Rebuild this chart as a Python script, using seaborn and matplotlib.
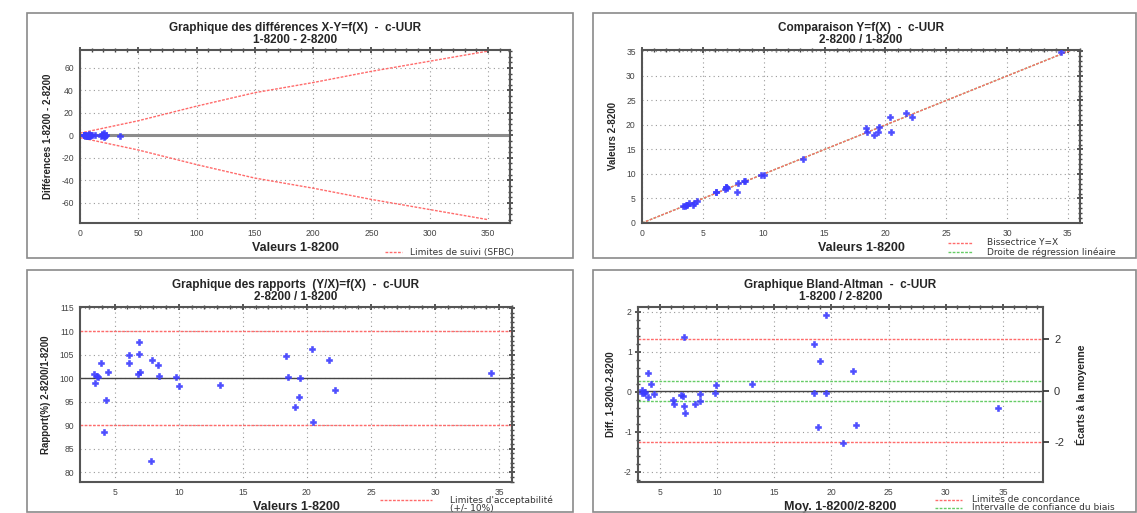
import numpy as np
import pandas as pd
import matplotlib
matplotlib.use("Agg")
import matplotlib.pyplot as plt
import seaborn as sns
from matplotlib.patches import Rectangle
from matplotlib.ticker import MultipleLocator

# Values: method 1-8200 (x) and ratio 2-8200/1-8200 in %
x_vals = [3.4, 3.5, 3.6, 3.7, 3.9, 4.2, 4.3, 4.5, 6.1, 6.1, 6.8, 6.9, 6.9, 7.0,
          7.8, 7.9, 8.4, 8.5, 9.8, 10.0, 13.2, 18.4, 18.5, 19.1, 19.4, 19.5,
          20.4, 20.5, 21.7, 22.2, 34.4]
ratio_vals = [101.0, 99.0, 100.5, 100.3, 103.3, 88.5, 95.3, 101.3, 105.0, 103.3,
              101.0, 105.2, 107.7, 101.3, 82.3, 103.8, 102.8, 100.5, 100.2, 98.4,
              98.6, 104.8, 100.2, 93.8, 96.0, 100.1, 106.2, 90.6, 103.8, 97.6, 101.2]

# SFBC follow-up limits (top left), read at a few x positions
lim_x = [0, 50, 100, 150, 200, 250, 300, 350]
lim_up = [2, 13, 26, 38, 47, 57, 66, 75]

# Bland-Altman reference lines
ba_bias = 0.03
ba_loa = [-1.24, 1.32]
ba_ci = [-0.22, 0.28]

df = pd.DataFrame({"x": x_vals, "ratio": ratio_vals})
df["y"] = df["x"] * df["ratio"] / 100
df["diff"] = df["x"] - df["y"]
df["mean"] = (df["x"] + df["y"]) / 2

sns.set_theme(style="white")
plt.rcParams["font.family"] = ["Liberation Sans", "DejaVu Sans"]
plt.rcParams["axes.unicode_minus"] = False

W, H = 1137, 513
fig = plt.figure(figsize=(W / 100, H / 100), dpi=100)

def rect(l, r, t, b):
    return [l / W, 1 - b / H, (r - l) / W, (b - t) / H]

# panel frames
for (l, r, t, b) in [(27, 573, 13, 258), (593, 1136, 13, 258),
                     (27, 573, 270, 512), (593, 1136, 270, 512)]:
    fig.patches.append(Rectangle((l / W, 1 - b / H), (r - l) / W, (b - t) / H,
                                 transform=fig.transFigure, fill=False,
                                 edgecolor="#8a8a8a", linewidth=1.2))

PT = "#3b3bff"
RED = "#ff6b6b"
GRN = "#66cc66"
LEG_FONT = dict(fontsize=6.5, family="DejaVu Sans", va="center", color="#333333")

def style(ax, xmaj, xmin, ymaj, ymin):
    ax.xaxis.set_major_locator(MultipleLocator(xmaj))
    ax.xaxis.set_minor_locator(MultipleLocator(xmin))
    ax.yaxis.set_major_locator(MultipleLocator(ymaj))
    ax.yaxis.set_minor_locator(MultipleLocator(ymin))
    ax.grid(True, which="major", linestyle=(0, (1, 3)), color="#9a9a9a", linewidth=0.8)
    ax.tick_params(which="both", direction="inout", top=True, right=True,
                   labelsize=6.2, colors="#444444", pad=2)
    ax.tick_params(which="major", length=5)
    ax.tick_params(which="minor", length=3)
    for s in ax.spines.values():
        s.set_color("#555555")
        s.set_linewidth(1.5)

def title(ax, l1, l2):
    ax.set_title(l1 + "\n" + l2, fontsize=8.5, fontweight="bold", pad=5, linespacing=1.0)

def xlab(ax, txt):
    ax.set_xlabel(txt, fontsize=9, fontweight="bold", labelpad=3)

def ylab(ax, txt):
    ax.set_ylabel(txt, fontsize=7, fontweight="bold", labelpad=6)

def legend_row(x0, x1, xt, yy, col, txt):
    fig.lines.append(plt.Line2D([x0 / W, x1 / W], [1 - yy / H] * 2, transform=fig.transFigure,
                                color=col, linestyle=(0, (2, 1)), linewidth=1))
    fig.text(xt / W, 1 - yy / H, txt, **LEG_FONT)

def scatter(ax, xcol, ycol):
    sns.scatterplot(data=df, x=xcol, y=ycol, ax=ax, color=PT, marker="P", s=24,
                    edgecolor=PT, linewidth=0.4, alpha=0.9, zorder=3)

# ---- top left: differences
ax1 = fig.add_axes(rect(80, 510, 50, 223))
ax1.axhline(0, color="#8c8c8c", linewidth=2.2, zorder=1)
sns.lineplot(x=lim_x, y=lim_up, ax=ax1, color=RED, linestyle=(0, (2, 1)), linewidth=1)
sns.lineplot(x=lim_x, y=[-v for v in lim_up], ax=ax1, color=RED, linestyle=(0, (2, 1)), linewidth=1)
scatter(ax1, "x", "diff")
ax1.set_xlim(0, 369)
ax1.set_ylim(-78, 76)
style(ax1, 50, 10, 20, 5)
title(ax1, "Graphique des différences X-Y=f(X)  -  c-UUR", "1-8200 - 2-8200")
xlab(ax1, "Valeurs 1-8200")
ylab(ax1, "Différences 1-8200 - 2-8200")
legend_row(385, 402, 410, 252, RED, "Limites de suivi (SFBC)")

# ---- top right: comparison
ax2 = fig.add_axes(rect(642, 1080, 50, 223))
sns.lineplot(x=[0, 36], y=[0, 36], ax=ax2, color=GRN, linestyle=(0, (2, 1)), linewidth=1)
sns.lineplot(x=[0, 36], y=[0, 36], ax=ax2, color=RED, linestyle=(0, (2, 1)), linewidth=1)
scatter(ax2, "x", "y")
ax2.set_xlim(0, 36)
ax2.set_ylim(0, 35.3)
style(ax2, 5, 1, 5, 1)
title(ax2, "Comparaison Y=f(X)  -  c-UUR", "2-8200 / 1-8200")
xlab(ax2, "Valeurs 1-8200")
ylab(ax2, "Valeurs 2-8200")
legend_row(948, 973, 987, 243, RED, "Bissectrice Y=X")
legend_row(948, 973, 987, 252, GRN, "Droite de régression linéaire")

# ---- bottom left: ratios
ax3 = fig.add_axes(rect(80, 512, 307, 482))
ax3.axhline(100, color="#444444", linewidth=1)
for v in [90, 110]:
    ax3.axhline(v, color=RED, linestyle=(0, (2, 1)), linewidth=1)
scatter(ax3, "x", "ratio")
ax3.set_xlim(2.3, 36)
ax3.set_ylim(77.9, 115.2)
style(ax3, 5, 1, 5, 1)
title(ax3, "Graphique des rapports  (Y/X)=f(X)  -  c-UUR", "2-8200 / 1-8200")
xlab(ax3, "Valeurs 1-8200")
ylab(ax3, "Rapport(%) 2-8200/1-8200")
legend_row(380, 432, 450, 500, RED, "Limites d'acceptabilité")
fig.text(450 / W, 1 - 508 / H, "(+/- 10%)", **LEG_FONT)

# ---- bottom right: Bland-Altman
ax4 = fig.add_axes(rect(638, 1043, 307, 482))
ax4.axhline(ba_bias, color="#444444", linewidth=1)
for v in ba_loa:
    ax4.axhline(v, color=RED, linestyle=(0, (2, 1)), linewidth=1)
for v in ba_ci:
    ax4.axhline(v, color=GRN, linestyle=(0, (2, 1)), linewidth=1)
scatter(ax4, "mean", "diff")
ax4.set_xlim(3.1, 38.5)
ax4.set_ylim(-2.25, 2.12)
style(ax4, 5, 1, 1, 0.2)
ax4.tick_params(which="both", right=False)
title(ax4, "Graphique Bland-Altman  -  c-UUR", "1-8200 / 2-8200")
xlab(ax4, "Moy. 1-8200/2-8200")
ylab(ax4, "Diff. 1-8200-2-8200")
ax4r = ax4.twinx()
ax4r.set_ylim(ax4.get_ylim())
ax4r.set_yticks([ba_loa[0], ba_bias, ba_loa[1]], ["-2", "0", "2"])
ax4r.tick_params(direction="out", length=4, labelsize=8, colors="#333333", pad=4)
ax4r.grid(False)
for s in ax4r.spines.values():
    s.set_visible(False)
ax4r.set_ylabel("Écarts à la moyenne", fontsize=7.5, fontweight="bold", labelpad=8)
legend_row(935, 962, 972, 500, RED, "Limites de concordance")
legend_row(935, 962, 972, 508, GRN, "Intervalle de confiance du biais")

fig.savefig("out.png", dpi=100)
